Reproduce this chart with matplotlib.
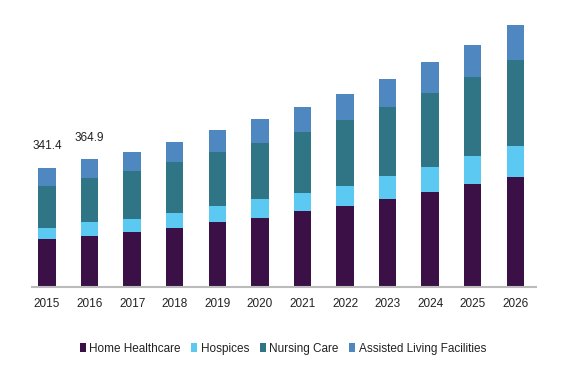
import numpy as np
import matplotlib.pyplot as plt

years = ['2015', '2016', '2017', '2018', '2019', '2020', '2021', '2022',
         '2023', '2024', '2025', '2026']
home = [136.5, 146, 158, 169, 186, 197.5, 216, 231, 251, 272, 295, 316]
hospices = [32.3, 40, 36, 42, 45, 53.5, 53, 59, 66, 71.5, 79, 87]
nursing = [121, 125.4, 137, 147, 154, 162, 175, 188, 198, 213, 227, 246]
assisted = [51.6, 53.5, 55, 57, 64, 69, 72, 75.5, 81, 88, 91, 100]
labels = {0: '341.4', 1: '364.9'}

colors = ['#3a1047', '#5bc9f2', '#2f7585', '#4f88c0']
names = ['Home Healthcare', 'Hospices', 'Nursing Care', 'Assisted Living Facilities']

fnt = 'Liberation Sans'

fig = plt.figure(figsize=(5.83, 3.65), dpi=100)
ax = fig.add_axes([0.055, 0.214, 0.864, 0.731])

x = np.arange(len(years))
w = 0.41
bottom = np.zeros(len(years))
for vals, c, n in zip([home, hospices, nursing, assisted], colors, names):
    ax.bar(x, vals, w, bottom=bottom, color=c, label=n)
    bottom += np.array(vals)

for i, t in labels.items():
    ax.text(x[i], bottom[i] + 45, t, ha='center', va='bottom', fontsize=8.5,
            family=fnt, color='#222222')

ax.set_xlim(-0.35, 11.48)
ax.set_ylim(0, 764)
for s in ['top', 'right', 'left']:
    ax.spines[s].set_visible(False)
ax.spines['bottom'].set_color('#bbbbbb')
ax.spines['bottom'].set_linewidth(1.5)
ax.set_yticks([])
ax.set_xticks(x)
ax.set_xticklabels(years, fontsize=8.5, family=fnt, color='#222222')
ax.tick_params(axis='x', length=0, pad=8)

leg = fig.legend(loc='center', bbox_to_anchor=(0.485, 0.044), ncol=4, frameon=False,
                 prop={'family': fnt, 'size': 8.5}, handlelength=0.5, handleheight=0.8,
                 handletextpad=0.3, columnspacing=0.9)
for t in leg.get_texts():
    t.set_color('#222222')

fig.savefig('out.png')
